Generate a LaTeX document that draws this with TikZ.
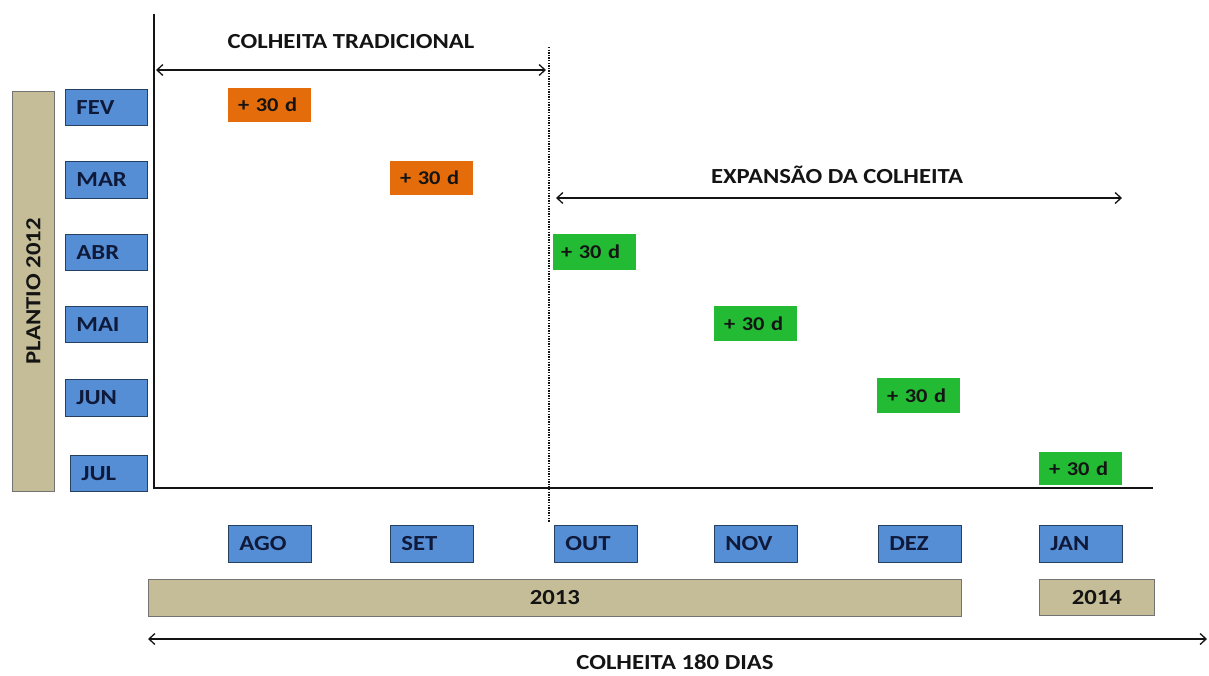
\documentclass[tikz,border=0pt]{standalone}
\usepackage{fontspec}
\setmainfont{Carlito}[FakeStretch=1.15]
\usetikzlibrary{arrows.meta}
\definecolor{mblue}{HTML}{558ED5}
\definecolor{mtan}{HTML}{C4BD97}
\definecolor{morange}{HTML}{E46C0A}
\definecolor{mgreen}{HTML}{22BB33}
\definecolor{navy}{HTML}{0F1A3A}
\definecolor{ink}{HTML}{141414}
\begin{document}
\begin{tikzpicture}[x=1pt,y=-1pt,
  mon/.style={draw=mblue!45!black, fill=mblue, line width=0.8pt,
    font=\bfseries\fontsize{21.5}{24}\selectfont, text=navy, anchor=north west,
    minimum height=37pt, inner xsep=11pt, inner ysep=0pt, text width=60pt, align=left},
  yr/.style={draw=black!55, fill=mtan, line width=0.8pt,
    font=\bfseries\fontsize{21.5}{24}\selectfont, text=ink, anchor=north west,
    minimum height=37pt, inner sep=0pt},
  tag/.style={anchor=north west, minimum height=34pt, inner xsep=10pt, inner ysep=0pt,
    text width=63pt, align=left, font=\bfseries\fontsize{19.5}{22}\selectfont, text=ink},
  lbl/.style={font=\bfseries\fontsize{21.5}{24}\selectfont, text=ink, inner sep=0pt},
  dim/.style={{Straight Barb[length=6pt,width=11pt]}-{Straight Barb[length=6pt,width=11pt]}, line width=1.3pt, draw=ink},
  axis/.style={line width=2pt, draw=ink}
]
\useasboundingbox (0,0) rectangle (1209,675);

% planting bar
\node[yr, minimum width=42pt, minimum height=400pt] (plantio) at (12,91) {};
\node[lbl, rotate=90] (plantiotxt) at (plantio.center) {PLANTIO 2012};

% left months
\node[mon, minimum height=36pt] (fev) at (65,89) {FEV};
\node[mon] (mar) at (65,161) {MAR};
\node[mon, minimum height=36pt] (abr) at (65,234) {ABR};
\node[mon, minimum height=36pt] (mai) at (65,306) {MAI};
\node[mon] (jun) at (65,379) {JUN};
\node[mon, minimum height=36pt, text width=55pt] (jul) at (70,455) {JUL};

% bottom months
\node[mon, text width=61pt] (ago) at (228,525) {AGO};
\node[mon, text width=61pt] (set) at (390,525) {SET};
\node[mon, text width=61pt] (out) at (554,525) {OUT};
\node[mon, text width=61pt] (nov) at (714,525) {NOV};
\node[mon, text width=61pt] (dez) at (878,525) {DEZ};
\node[mon, text width=61pt] (jan) at (1039,525) {JAN};

% years
\node[yr, minimum width=813pt] (y2013) at (148,579) {2013};
\node[yr, minimum width=115pt, minimum height=36pt] (y2014) at (1039,579) {2014};

% +30 d tags
\node[tag, fill=morange] (t1) at (228,88) {+ 30 d};
\node[tag, fill=morange] (t2) at (390,161) {+ 30 d};
\node[tag, fill=mgreen, minimum height=36pt, inner xsep=8pt, text width=67pt] (t3) at (553,234) {+ 30 d};
\node[tag, fill=mgreen, minimum height=35pt] (t4) at (714,306) {+ 30 d};
\node[tag, fill=mgreen, minimum height=35pt] (t5) at (877,378) {+ 30 d};
\node[tag, fill=mgreen, minimum height=33pt] (t6) at (1039,452) {+ 30 d};

% axes
\coordinate (vtop) at (154,14);
\coordinate (orig) at (154,488);
\coordinate (hend) at (1153,488);
\draw[axis] (vtop) -- (orig) -- (hend);

% dotted divider
\coordinate (dtop) at (549,47);
\coordinate (dbot) at (549,522);
\draw[ink, line width=1.2pt, dash pattern=on 1.3pt off 1.3pt] (dtop) -- (dbot);

% traditional harvest
\coordinate (tl) at (156,70);
\coordinate (tr) at (546,70);
\draw[dim] (tl) -- (tr);
\node[lbl] (ltrad) at (351,42) {COLHEITA TRADICIONAL};

% expansion
\coordinate (el) at (556,198);
\coordinate (er) at (1122,198);
\draw[dim] (el) -- (er);
\node[lbl] (lexp) at (837,175) {EXPANSÃO DA COLHEITA};

% total
\coordinate (bl) at (148,639);
\coordinate (br) at (1207,639);
\draw[dim] (bl) -- (br);
\node[lbl] (ltot) at (675,662) {COLHEITA 180 DIAS};
\end{tikzpicture}
\end{document}
